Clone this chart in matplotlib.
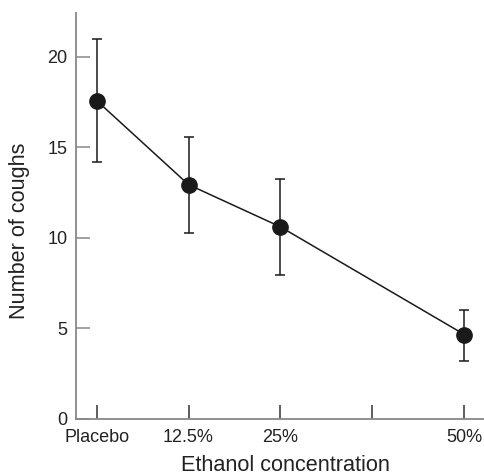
import numpy as np
import matplotlib
matplotlib.use("Agg")
import matplotlib.pyplot as plt

plt.rcParams['font.family'] = ['Liberation Sans', 'DejaVu Sans']

# データ
concentration = [0, 12.5, 25, 50]
coughs_mean = [17.57, 12.93, 10.6, 4.66]
err_upper = [20.97, 15.58, 13.22, 6.0]
err_lower = [14.2, 10.24, 7.94, 3.18]
x_ticks = [0, 12.5, 25, 37.5, 50]
x_tick_labels = ["Placebo", "12.5%", "25%", "", "50%"]
y_ticks = [0, 5, 10, 15, 20]

mean = np.array(coughs_mean)
yerr = [mean - np.array(err_lower), np.array(err_upper) - mean]

fig = plt.figure(figsize=(4.85, 4.75), dpi=100)
ax = fig.add_axes([0.1567, 0.1179, 0.8433, 0.8547])

ax.errorbar(concentration, coughs_mean, yerr=yerr, color="#1a1a1a", lw=1.1,
            marker="o", markersize=11, capsize=3.6, elinewidth=1.1, capthick=1.1)

ax.set_xlim(-2.8, 52.8)
ax.set_ylim(0, 22.4)
ax.set_xticks(x_ticks)
ax.set_xticklabels(x_tick_labels)
ax.set_yticks(y_ticks)

# 枠線の調整
for s in ["top", "right"]:
    ax.spines[s].set_visible(False)
for s in ["left", "bottom"]:
    ax.spines[s].set_color("#888888")
    ax.spines[s].set_linewidth(1.3)

ax.tick_params(axis="y", direction="in", length=10, width=1.1, color="#888888",
               labelsize=13, pad=6, labelcolor="#222222")
ax.tick_params(axis="x", direction="in", length=10, width=1.1, color="#333333",
               labelsize=13, pad=7, labelcolor="#222222")

ax.set_xlabel("Ethanol concentration", size=15.6, color="#222222")
ax.set_ylabel("Number of coughs", size=15.6, color="#222222")
# ラベル位置を参照画像に合わせる
ax.xaxis.set_label_coords(0.511, -0.088)
ax.yaxis.set_label_coords(-0.113, 0.463)

plt.savefig("out.png", dpi=100)
plt.close()
